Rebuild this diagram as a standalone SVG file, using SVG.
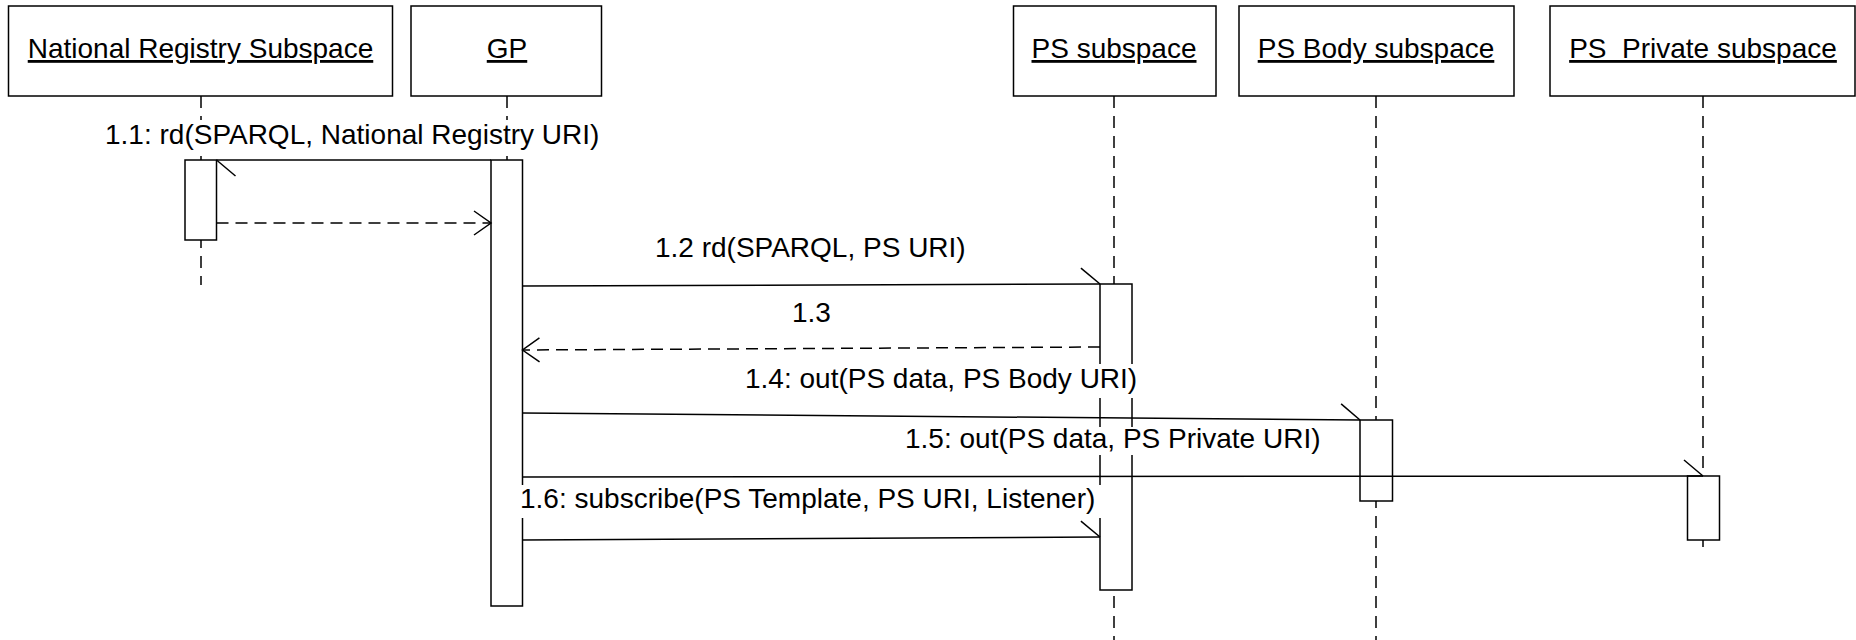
<svg xmlns="http://www.w3.org/2000/svg" width="1856" height="640" viewBox="0 0 1856 640">
<style>
.box{fill:#fff;stroke:#000;stroke-width:1.5}
.act{fill:#fff;stroke:#000;stroke-width:1.5}
.life{stroke:#000;stroke-width:1.5;stroke-dasharray:12 8;fill:none}
.msg{stroke:#000;stroke-width:1.5;fill:none}
.ret{stroke:#000;stroke-width:1.5;fill:none;stroke-dasharray:12 7}
.t{font-family:"Liberation Sans",Arial,Helvetica,sans-serif;font-size:28px;fill:#000}
.h{text-anchor:middle;text-decoration:underline;white-space:pre}
.bg{fill:#fff;stroke:none}
</style>
<defs>
<marker id="half" markerUnits="userSpaceOnUse" markerWidth="40" markerHeight="40" refX="0" refY="0" orient="auto" overflow="visible">
<path d="M-19,-16 L0,0" fill="none" stroke="#000" stroke-width="1.5"/>
</marker>
<marker id="open" markerUnits="userSpaceOnUse" markerWidth="40" markerHeight="40" refX="0" refY="0" orient="auto" overflow="visible">
<path d="M-17,-12 L0,0 L-17,12" fill="none" stroke="#000" stroke-width="1.5"/>
</marker>
</defs>
<rect width="1856" height="640" fill="#fff"/>
<g id="national-registry">
<rect class="box" x="8.5" y="6" width="384" height="90"/>
<text class="t h" x="200.5" y="58">National Registry Subspace</text>
<line class="life" x1="201" y1="96" x2="201" y2="285"/>
<rect class="act" x="185" y="160" width="31.5" height="80"/>
</g>
<g id="gp">
<rect class="box" x="411" y="6" width="190.5" height="90"/>
<text class="t h" x="507" y="58">GP</text>
<line class="life" x1="507" y1="96" x2="507" y2="160"/>
<rect class="act" x="491" y="160" width="31.5" height="446"/>
</g>
<g id="ps-subspace">
<rect class="box" x="1013.5" y="6" width="202.5" height="90"/>
<text class="t h" x="1114" y="58">PS subspace</text>
<line class="life" x1="1114" y1="96" x2="1114" y2="640"/>
<rect class="act" x="1100" y="284" width="32" height="306"/>
</g>
<g id="ps-body-subspace">
<rect class="box" x="1239" y="6" width="275" height="90"/>
<text class="t h" x="1376" y="58">PS Body subspace</text>
<line class="life" x1="1376" y1="96" x2="1376" y2="640"/>
<rect class="act" x="1360" y="420" width="32.5" height="81"/>
</g>
<g id="ps-private-subspace">
<rect class="box" x="1550" y="6" width="305" height="90"/>
<text class="t h" x="1703" y="58">PS  Private subspace</text>
<line class="life" x1="1703" y1="96" x2="1703" y2="547"/>
<rect class="act" x="1687.5" y="476" width="32" height="64"/>
</g>
<g id="connectors">
<line class="msg" x1="491" y1="160" x2="216.5" y2="160" marker-end="url(#half)"/>
<line class="ret" x1="216.5" y1="223" x2="491" y2="223" marker-end="url(#open)"/>
<line class="msg" x1="522.5" y1="286" x2="1100" y2="284" marker-end="url(#half)"/>
<line class="ret" x1="1100" y1="347" x2="522.5" y2="350" marker-end="url(#open)"/>
<line class="msg" x1="522.5" y1="413" x2="1360" y2="420" marker-end="url(#half)"/>
<line class="msg" x1="522.5" y1="477" x2="1703" y2="476" marker-end="url(#half)"/>
<line class="msg" x1="522.5" y1="540" x2="1100" y2="537" marker-end="url(#half)"/>
<rect class="bg" x="104" y="120" width="500" height="33"/>
<text class="t" x="105" y="143.5">1.1: rd(SPARQL, National Registry URI)</text>
<rect class="bg" x="654" y="234" width="315" height="33"/>
<text class="t" x="655" y="257">1.2 rd(SPARQL, PS URI)</text>
<rect class="bg" x="791" y="298" width="42" height="33"/>
<text class="t" x="792" y="322">1.3</text>
<rect class="bg" x="744" y="364" width="395" height="34"/>
<text class="t" x="745" y="388">1.4: out(PS data, PS Body URI)</text>
<rect class="bg" x="904" y="427" width="419" height="28"/>
<text class="t" x="905" y="448">1.5: out(PS data, PS Private URI)</text>
<rect class="bg" x="519" y="485" width="584" height="33"/>
<text class="t" x="520" y="508">1.6: subscribe(PS Template, PS URI, Listener)</text>
</g>
</svg>
